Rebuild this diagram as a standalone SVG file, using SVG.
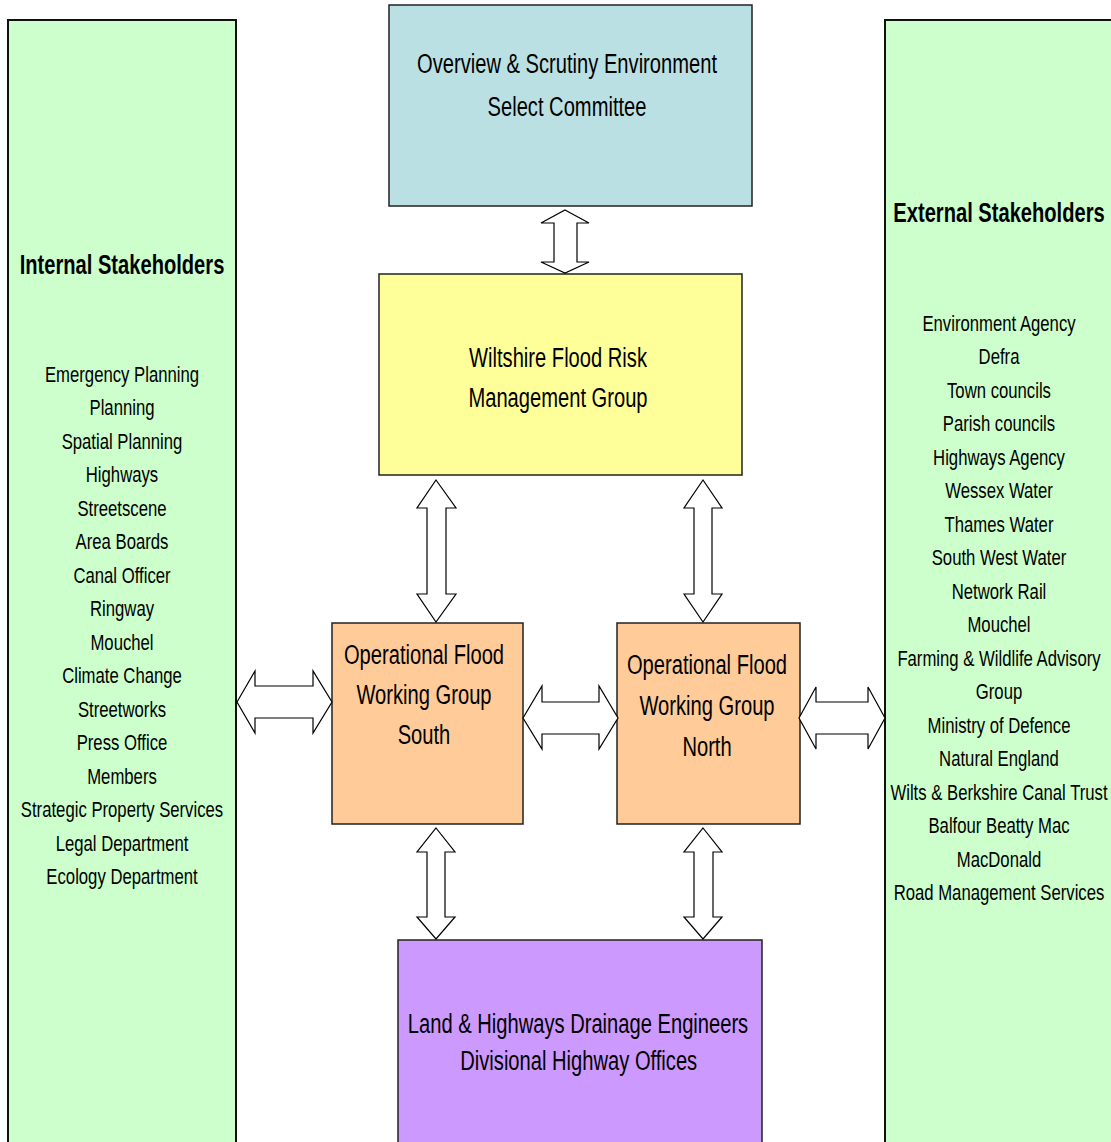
<svg xmlns="http://www.w3.org/2000/svg" width="1111" height="1142" viewBox="0 0 1111 1142">
<style>
.box{stroke:#222;stroke-width:1.5}
.side{fill:#CCFFCC;stroke:#111;stroke-width:2}
.arrow{fill:#fff;stroke:#000;stroke-width:1.2;stroke-linejoin:miter}
text{font-family:"Liberation Sans",Arial,sans-serif;fill:#000;text-anchor:middle}
.main{font-size:28px}
.list{font-size:22px}
.head{font-size:27px;font-weight:bold}
</style>
<rect width="1111" height="1142" fill="#fff"/>
<g id="internal">
<rect class="side" x="8" y="20" width="228" height="1130"/>
<text class="head" transform="translate(122,274) scale(0.746,1)">Internal Stakeholders</text>
<text class="list" transform="translate(122,382) scale(0.76,1)"><tspan x="0" y="0">Emergency Planning</tspan><tspan x="0" y="33.5">Planning</tspan><tspan x="0" y="67">Spatial Planning</tspan><tspan x="0" y="100.5">Highways</tspan><tspan x="0" y="134">Streetscene</tspan><tspan x="0" y="167.5">Area Boards</tspan><tspan x="0" y="201">Canal Officer</tspan><tspan x="0" y="234.5">Ringway</tspan><tspan x="0" y="268">Mouchel</tspan><tspan x="0" y="301.5">Climate Change</tspan><tspan x="0" y="335">Streetworks</tspan><tspan x="0" y="368.5">Press Office</tspan><tspan x="0" y="402">Members</tspan><tspan x="0" y="435.5">Strategic Property Services</tspan><tspan x="0" y="469">Legal Department</tspan><tspan x="0" y="502.5">Ecology Department</tspan></text>
</g>
<g id="external">
<rect class="side" x="885" y="20" width="240" height="1130"/>
<text class="head" transform="translate(999,222) scale(0.746,1)">External Stakeholders</text>
<text class="list" transform="translate(999,331) scale(0.76,1)"><tspan x="0" y="0">Environment Agency</tspan><tspan x="0" y="33.5">Defra</tspan><tspan x="0" y="67">Town councils</tspan><tspan x="0" y="100.5">Parish councils</tspan><tspan x="0" y="134">Highways Agency</tspan><tspan x="0" y="167.5">Wessex Water</tspan><tspan x="0" y="201">Thames Water</tspan><tspan x="0" y="234.5">South West Water</tspan><tspan x="0" y="268">Network Rail</tspan><tspan x="0" y="301.5">Mouchel</tspan><tspan x="0" y="335">Farming &amp; Wildlife Advisory</tspan><tspan x="0" y="368.5">Group</tspan><tspan x="0" y="402">Ministry of Defence</tspan><tspan x="0" y="435.5">Natural England</tspan><tspan x="0" y="469">Wilts &amp; Berkshire Canal Trust</tspan><tspan x="0" y="502.5">Balfour Beatty Mac</tspan><tspan x="0" y="536">MacDonald</tspan><tspan x="0" y="569.5">Road Management Services</tspan></text>
</g>
<g id="overview">
<rect class="box" x="389" y="5" width="363" height="201" fill="#BBE0E3"/>
<text class="main" transform="translate(567,73) scale(0.72,1)"><tspan x="0" y="0">Overview &amp; Scrutiny Environment</tspan><tspan x="0" y="43">Select Committee</tspan></text>
</g>
<g id="wiltshire">
<rect class="box" x="379" y="274" width="363" height="201" fill="#FFFF99"/>
<text class="main" transform="translate(558,367) scale(0.72,1)"><tspan x="0" y="0">Wiltshire Flood Risk</tspan><tspan x="0" y="40">Management Group</tspan></text>
</g>
<g id="south">
<rect class="box" x="332" y="623" width="191" height="201" fill="#FFCC99"/>
<text class="main" transform="translate(424,664) scale(0.72,1)"><tspan x="0" y="0">Operational Flood</tspan><tspan x="0" y="40.5">Working Group</tspan><tspan x="0" y="80">South</tspan></text>
</g>
<g id="north">
<rect class="box" x="617" y="623" width="183" height="201" fill="#FFCC99"/>
<text class="main" transform="translate(707,674) scale(0.72,1)"><tspan x="0" y="0">Operational Flood</tspan><tspan x="0" y="41">Working Group</tspan><tspan x="0" y="82">North</tspan></text>
</g>
<g id="drainage">
<rect class="box" x="398" y="940" width="364" height="210" fill="#CC99FF"/>
<text class="main" transform="translate(578,1033) scale(0.72,1)"><tspan x="0" y="0">Land &amp; Highways Drainage Engineers</tspan><tspan x="1" y="37">Divisional Highway Offices</tspan></text>
</g>
<g id="connectors">
<polygon class="arrow" points="565,210 589,223 577,223 577,262 589,262 565,273 541,262 554,262 554,223 541,223"/>
<polygon class="arrow" points="436,480 456,508 446,508 446,594 456,594 436,622 417,594 427,594 427,508 417,508"/>
<polygon class="arrow" points="703,480 722,508 712,508 712,594 722,594 703,622 684,594 694,594 694,508 684,508"/>
<polygon class="arrow" points="436,828 455,852 445,852 445,917 455,917 436,939 417,917 427,917 427,852 417,852"/>
<polygon class="arrow" points="703,828 722,852 713,852 713,917 722,917 703,939 684,917 694,917 694,852 684,852"/>
<polygon class="arrow" points="237,702 255,671 255,686 313,686 313,671 332,702 313,733 313,718 255,718 255,733"/>
<polygon class="arrow" points="523,718 542,686 542,702 599,702 599,686 618,718 599,749 599,734 542,734 542,749"/>
<polygon class="arrow" points="799,718 816,687 816,702 868,702 868,687 885,718 868,749 868,734 816,734 816,749"/>
</g>
</svg>
